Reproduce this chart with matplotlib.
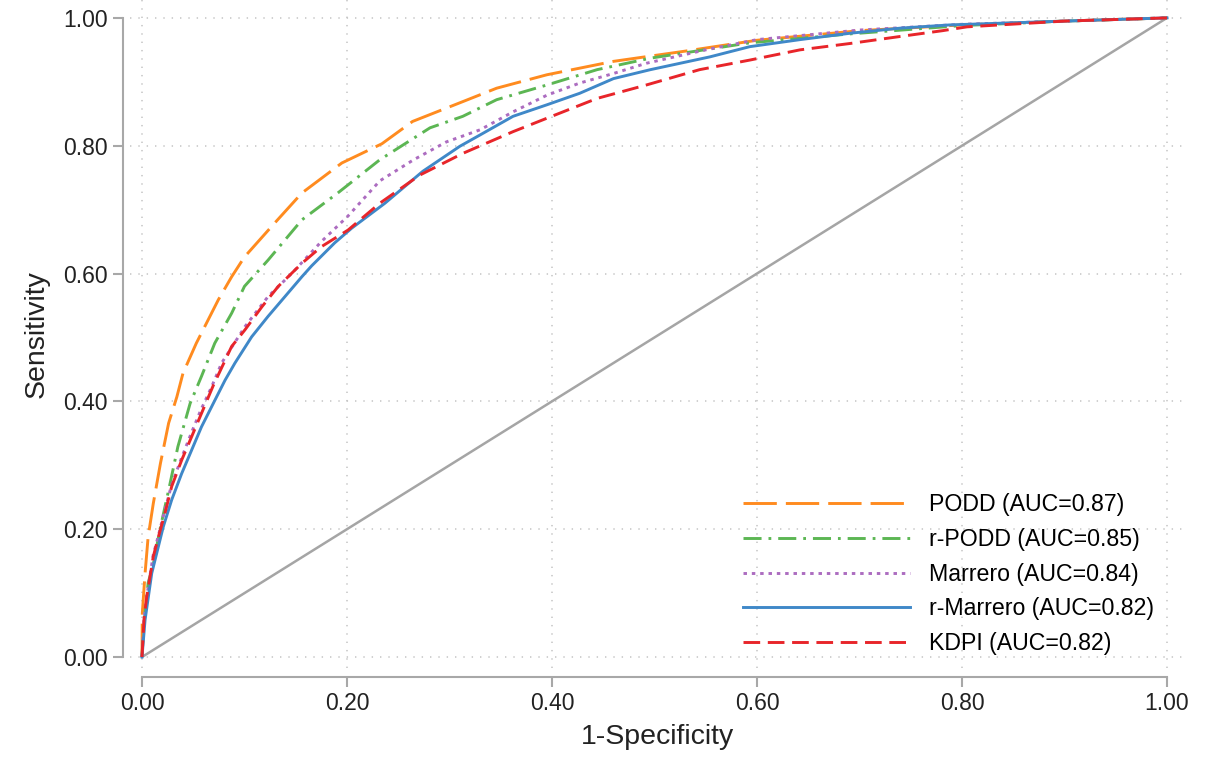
import numpy as np
import matplotlib
matplotlib.use('Agg')
import matplotlib.pyplot as plt

plt.rcParams['font.family'] = ['Liberation Sans', 'DejaVu Sans']
plt.rcParams['lines.scale_dashes'] = False

# ROC curves (1-specificity, sensitivity)
podd_x = [0, 0.0003, 0.003, 0.006, 0.011, 0.018, 0.026, 0.034, 0.040, 0.053, 0.0745, 0.0875, 0.1, 0.13,
          0.156, 0.195, 0.234, 0.264, 0.313, 0.346, 0.395, 0.46, 0.53, 0.6, 0.7, 0.8, 0.9, 1.0]
podd_y = [0, 0.068, 0.131, 0.188, 0.24, 0.303, 0.366, 0.407, 0.444, 0.491, 0.559, 0.595, 0.626, 0.68,
          0.726, 0.773, 0.803, 0.838, 0.869, 0.89, 0.911, 0.932, 0.948, 0.965, 0.98, 0.989, 0.995, 1.0]

rpodd_x = [0, 0.001, 0.003, 0.006, 0.011, 0.0176, 0.026, 0.035, 0.047, 0.058, 0.071, 0.0875, 0.1, 0.123,
           0.156, 0.191, 0.232, 0.281, 0.313, 0.346, 0.395, 0.444, 0.496, 0.593, 0.691, 0.8, 0.9, 1.0]
rpodd_y = [0, 0.03, 0.07, 0.116, 0.145, 0.2, 0.261, 0.329, 0.397, 0.439, 0.491, 0.538, 0.58, 0.621,
           0.684, 0.726, 0.778, 0.828, 0.846, 0.872, 0.895, 0.919, 0.937, 0.961, 0.975, 0.988, 0.995, 1.0]

marr_x = [0, 0.002, 0.0046, 0.011, 0.016, 0.022, 0.029, 0.0387, 0.048, 0.057, 0.068, 0.0777, 0.1005,
          0.123, 0.146, 0.175, 0.201, 0.232, 0.265, 0.297, 0.33, 0.362, 0.395, 0.427, 0.46, 0.492,
          0.55, 0.6, 0.7, 0.8, 0.9, 1.0]
marr_y = [0, 0.06, 0.094, 0.16, 0.19, 0.228, 0.27, 0.312, 0.35, 0.385, 0.423, 0.46, 0.517,
          0.564, 0.6, 0.65, 0.69, 0.745, 0.778, 0.806, 0.825, 0.853, 0.879, 0.898, 0.913, 0.929,
          0.95, 0.966, 0.981, 0.99, 0.995, 1.0]

rmarr_x = [0, 0.003, 0.0062, 0.0095, 0.0143, 0.0208, 0.029, 0.0387, 0.0485, 0.058, 0.0712, 0.081, 0.0907,
           0.107, 0.123, 0.1395, 0.156, 0.1655, 0.188, 0.2046, 0.237, 0.274, 0.31, 0.33, 0.362, 0.395,
           0.427, 0.46, 0.496, 0.554, 0.593, 0.642, 0.691, 0.74, 0.788, 0.9, 1.0]
rmarr_y = [0, 0.058, 0.094, 0.131, 0.162, 0.204, 0.246, 0.287, 0.324, 0.36, 0.402, 0.433, 0.46,
           0.501, 0.533, 0.564, 0.595, 0.612, 0.648, 0.671, 0.71, 0.76, 0.799, 0.817, 0.846, 0.864,
           0.882, 0.905, 0.919, 0.939, 0.955, 0.966, 0.976, 0.984, 0.989, 0.995, 1.0]

kdpi_x = [0, 0.002, 0.0046, 0.011, 0.016, 0.0224, 0.029, 0.0387, 0.0485, 0.058, 0.0696, 0.0875, 0.1005,
          0.117, 0.133, 0.156, 0.175, 0.201, 0.232, 0.271, 0.313, 0.362, 0.395, 0.444, 0.492, 0.544,
          0.593, 0.642, 0.691, 0.74, 0.781, 0.805, 0.9, 1.0]
kdpi_y = [0, 0.06, 0.094, 0.157, 0.188, 0.225, 0.267, 0.308, 0.345, 0.381, 0.425, 0.486, 0.512,
          0.548, 0.58, 0.616, 0.642, 0.668, 0.71, 0.754, 0.788, 0.822, 0.843, 0.874, 0.895, 0.919,
          0.934, 0.95, 0.96, 0.971, 0.98, 0.986, 0.995, 1.0]

labels = ['PODD (AUC=0.87)', 'r-PODD (AUC=0.85)', 'Marrero (AUC=0.84)',
          'r-Marrero (AUC=0.82)', 'KDPI (AUC=0.82)']
curves = [(podd_x, podd_y), (rpodd_x, rpodd_y), (marr_x, marr_y), (rmarr_x, rmarr_y), (kdpi_x, kdpi_y)]
colors = ['#ff8b1f', '#5cb653', '#ac6cc0', '#3f88c8', '#e8252a']
styles = [(0, (24, 6.5)), (0, (13, 5, 2, 5)), (0, (2.5, 3.5)), '-', (0, (12, 5.5))]
ticks = [0, 0.2, 0.4, 0.6, 0.8, 1.0]

fig = plt.figure(figsize=(12.07, 7.62), dpi=100)
ax = fig.add_axes([130/1207, 94/762, 1055/1207, 668/762])

ax.plot([0, 1], [0, 1], color='#a5a5a5', lw=1.8, zorder=2)
for (x, y), c, ls, lab in zip(curves, colors, styles, labels):
    ax.plot(x, y, color=c, ls=ls, lw=2.1, label=lab, zorder=3)

ax.set_xlim(-0.0117, 1.0176)
ax.set_ylim(-0.0172, 1.028)
ax.set_xticks(ticks)
ax.set_yticks(ticks)
ax.set_xticklabels(['%.2f' % t for t in ticks])
ax.set_yticklabels(['%.2f' % t for t in ticks])
ax.grid(True, ls=(0, (1, 5)), color='#c4c4c4', lw=1.1)

for s in ['top', 'right']:
    ax.spines[s].set_visible(False)
ax.spines['left'].set_position(('outward', 5))
ax.spines['bottom'].set_position(('outward', 6.5))
for s in ['left', 'bottom']:
    ax.spines[s].set_bounds(0, 1)
    ax.spines[s].set_color('#a8a8a8')
    ax.spines[s].set_linewidth(1.5)
ax.tick_params(axis='both', length=7, width=1.5, color='#a8a8a8', labelsize=16.5,
               labelcolor='#222222', pad=4)

ax.set_xlabel('1-Specificity', fontsize=20.5, color='#222222', labelpad=6)
ax.set_ylabel('Sensitivity', fontsize=20.5, color='#222222', labelpad=10)

ax.legend(loc='lower right', bbox_to_anchor=(0.990, -0.012), frameon=False, fontsize=16.7,
          handlelength=7.2, handletextpad=0.78, labelspacing=0.505)

fig.savefig('out.png', dpi=100)
